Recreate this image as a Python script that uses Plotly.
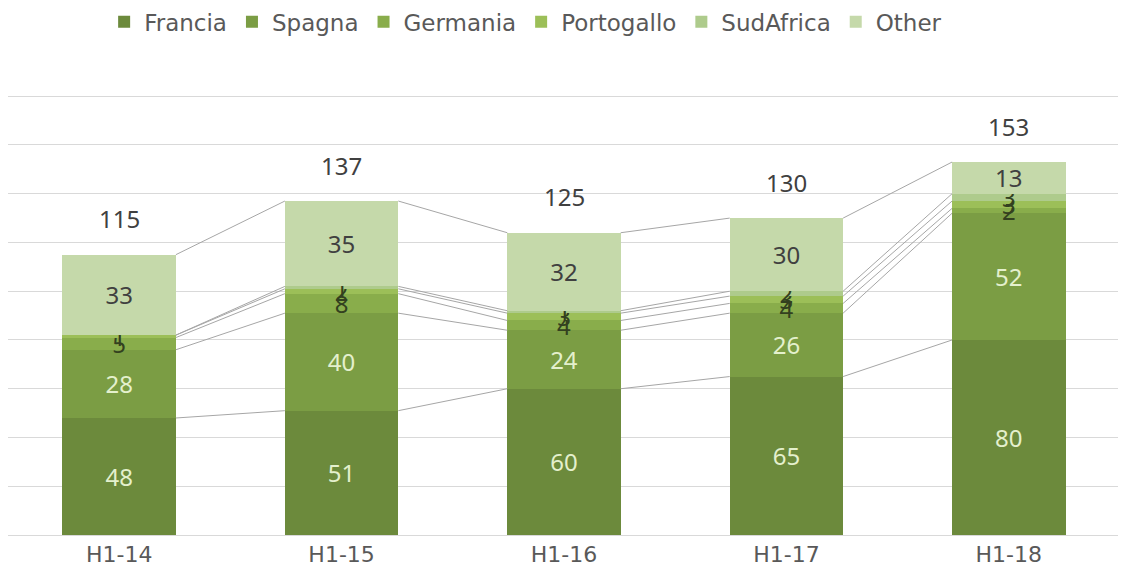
import plotly.graph_objects as go

categories = ["H1-14", "H1-15", "H1-16", "H1-17", "H1-18"]
francia = [48, 51, 60, 65, 80]
spagna = [28, 40, 24, 26, 52]
germania = [5, 8, 4, 4, 2]
portogallo = [1, 2, 3, 3, 3]
sudafrica = [0, 1, 1, 2, 3]
other = [33, 35, 32, 30, 13]
totals = [115, 137, 125, 130, 153]

series = [
    ("Francia", francia, "#6C8A3C", "#E4F0CD"),
    ("Spagna", spagna, "#7B9D44", "#E4F0CD"),
    ("Germania", germania, "#89AD4B", "#33401F"),
    ("Portogallo", portogallo, "#9CBF58", "#33401F"),
    ("SudAfrica", sudafrica, "#AECB8C", "#33401F"),
    ("Other", other, "#C5D9AA", "#404040"),
]

xs = list(range(len(categories)))
bar_w = 0.51
font_main = "Noto Sans, DejaVu Sans, sans-serif"

fig = go.Figure()
for name, vals, col, tcol in series:
    fig.add_trace(go.Bar(
        x=xs, y=vals, name=name, width=bar_w,
        marker=dict(color=col, line=dict(width=0)),
        text=[str(v) for v in vals], textposition="inside",
        insidetextanchor="middle", textangle=0, constraintext="none",
        textfont=dict(color=tcol, size=24, family=font_main),
        hoverinfo="skip",
    ))

# series lines connecting cumulative tops
lx, ly = [], []
cum = [0] * len(xs)
for name, vals, col, tcol in series:
    cum = [c + v for c, v in zip(cum, vals)]
    for i in range(len(xs) - 1):
        lx += [xs[i] + bar_w / 2, xs[i + 1] - bar_w / 2, None]
        ly += [cum[i], cum[i + 1], None]
fig.add_trace(go.Scatter(x=lx, y=ly, mode="lines", line=dict(color="#A6A6A6", width=1),
                         showlegend=False, hoverinfo="skip"))

for i, t in enumerate(totals):
    fig.add_annotation(x=xs[i], y=cum[i], text=str(t), showarrow=False,
                       yshift=36, font=dict(size=24, color="#404040", family=font_main))

fig.update_layout(
    barmode="stack",
    width=1118, height=577,
    margin=dict(l=0, r=6, t=87, b=50, autoexpand=False),
    plot_bgcolor="white", paper_bgcolor="white",
    legend=dict(orientation="h", xref="container", yref="container",
                x=0.463, xanchor="center", y=0.976, yanchor="middle",
                font=dict(size=23, color="#595959", family="DejaVu Sans, sans-serif"),
                itemwidth=30, traceorder="normal"),
    xaxis=dict(tickvals=xs, ticktext=categories, range=[-0.5, 4.5], showgrid=False,
               showline=True, linecolor="#D9D9D9", ticks="",
               tickfont=dict(size=22, color="#595959", family="DejaVu Sans, sans-serif")),
    yaxis=dict(range=[0, 180.5], tickvals=[20, 40, 60, 80, 100, 120, 140, 160, 180],
               showgrid=True, gridcolor="#D9D9D9",
               showticklabels=False, zeroline=False),
    showlegend=True,
)

fig.write_html("out.html")
